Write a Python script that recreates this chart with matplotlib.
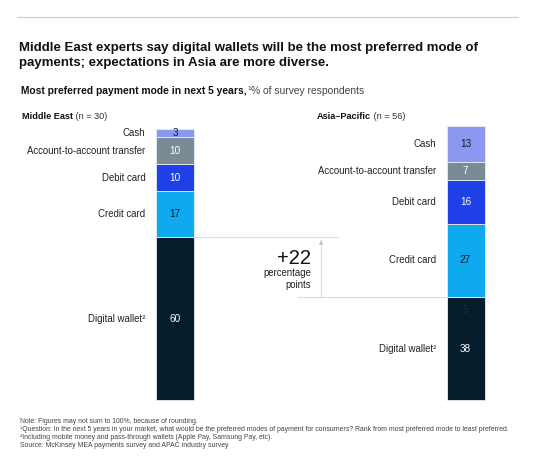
import matplotlib
matplotlib.use("Agg")
import matplotlib.pyplot as plt

plt.rcParams['font.family'] = ['Liberation Sans', 'DejaVu Sans']

# ---------------- data ----------------
categories = ["Digital wallet²", "Credit card", "Debit card", "Account-to-account transfer", "Cash"]
regions = ["Middle East", "Asia\u2013Pacific"]
region_n = ["(n = 30)", "(n = 56)"]
me_values = [60, 17, 10, 10, 3]
ap_values = [38, 27, 16, 7, 13]
ap_extra_label = "5"
diff_label = "+22"

colors = ["#051c2c", "#0fa9ef", "#1f40e6", "#7b8b95", "#8b98ef"]
num_colors = ["white", "#051c2c", "white", "white", "#051c2c"]

W, H = 554, 457
fig = plt.figure(figsize=(W / 100, H / 100), dpi=100)

# axis mapping: y=0 at pixel 400 (from top), y=100 at pixel 129
px_per_unit = (400 - 129) / 100.0
y_bot = -(H - 400) / px_per_unit
y_top = 400 / px_per_unit
x0_px, x1_px = 175.0, 465.5
upx = x1_px - x0_px
ax = fig.add_axes([0, 0, 1, 1])
ax.set_xlim(-x0_px / upx, (W - x0_px) / upx)
ax.set_ylim(y_bot, y_top)
ax.axis('off')

bar_w = 38 / upx
label_gap = 10.5 / upx

def draw_bar(xpos, values, label_side_x):
    bottom = 0
    for i, v in enumerate(values):
        ax.bar(xpos, v, bottom=bottom, width=bar_w, color=colors[i],
               edgecolor='#e6eef3', linewidth=0.6, zorder=3)
        ax.text(xpos, bottom + v / 2, str(v), ha='center', va='center',
                fontsize=7.2, color=num_colors[i], zorder=4)
        ax.text(label_side_x, bottom + v / 2, categories[i], ha='right', va='center',
                fontsize=6.9, color='#222222')
        bottom += v

draw_bar(0, me_values, 0 - bar_w / 2 - label_gap)
draw_bar(1, ap_values, 1 - bar_w / 2 - label_gap)

# extra dark label in Asia-Pacific digital wallet segment
ax.annotate(ap_extra_label, xy=(1, ap_values[0]), xytext=(0, -9), textcoords='offset points',
            ha='center', va='center', fontsize=7.2, color='#1b2d3c', zorder=4)

# comparison guides
me_dw_top = me_values[0]
ap_dw_top = ap_values[0]
ax.plot([bar_w / 2, 0.56], [me_dw_top, me_dw_top], color='#dcdcdc', lw=0.8, zorder=1)
ax.plot([0.425, 1 - bar_w / 2], [ap_dw_top, ap_dw_top], color='#dcdcdc', lw=0.8, zorder=1)
xv = 0.503
ax.plot([xv, xv], [ap_dw_top, me_dw_top - 1.2], color='#dcdcdc', lw=0.8, zorder=1)
ax.annotate('', xy=(xv, me_dw_top), xytext=(xv, me_dw_top - 2.5),
            arrowprops=dict(arrowstyle='-|>', color='#c8c8c8', lw=0.6, mutation_scale=6))
ax.text(0.468, 52.3, diff_label, ha='right', va='center', fontsize=14.5, color='#111111')
ax.text(0.468, 47.0, "percentage", ha='right', va='center', fontsize=6.9, color='#222222')
ax.text(0.468, 42.5, "points", ha='right', va='center', fontsize=6.9, color='#222222')

# region headers
def mixed(x, y, bold, regular, size):
    t = fig.text(x / W, 1 - y / H, bold, fontsize=size, fontweight='bold', color='#111111',
                 ha='left', va='baseline')
    fig.canvas.draw()
    bb = t.get_window_extent()
    fig.text(bb.x1 / W, 1 - y / H, regular, fontsize=size, color='#333333',
             ha='left', va='baseline')

mixed(22, 119, regions[0], " " + region_n[0], 6.6)
mixed(317, 119, regions[1], " " + region_n[1], 6.6)

# top rule
fig.add_artist(plt.Line2D([17 / W, 518 / W], [1 - 17 / H, 1 - 17 / H], color='#cccccc', lw=0.8))

# title
fig.text(19 / W, 1 - 51 / H, "Middle East experts say digital wallets will be the most preferred mode of",
         fontsize=9.5, fontweight='bold', color='#111111', va='baseline')
fig.text(19 / W, 1 - 66 / H, "payments; expectations in Asia are more diverse.",
         fontsize=9.5, fontweight='bold', color='#111111', va='baseline')

# subtitle
t = fig.text(21 / W, 1 - 94 / H, "Most preferred payment mode in next 5 years,", fontsize=7.4,
             fontweight='bold', color='#111111', va='baseline')
fig.canvas.draw()
bb = t.get_window_extent()
fig.text((bb.x1 + 0.5) / W, 1 - 90 / H, "1", fontsize=4.5, color='#333333', va='baseline')
fig.text((bb.x1 + 4.5) / W, 1 - 94 / H, "% of survey respondents", fontsize=7.4, color='#444444', va='baseline')

# footnotes
notes = [
    "Note: Figures may not sum to 100%, because of rounding.",
    "¹Question: In the next 5 years in your market, what would be the preferred modes of payment for consumers? Rank from most preferred mode to least preferred.",
    "²Including mobile money and pass-through wallets (Apple Pay, Samsung Pay, etc).",
    "Source: McKinsey MEA payments survey and APAC industry survey",
]
for i, n in enumerate(notes):
    fig.text(20 / W, 1 - (423 + i * 8) / H, n, fontsize=4.95, color='#444444', va='baseline')

fig.savefig("out.png", dpi=100)
